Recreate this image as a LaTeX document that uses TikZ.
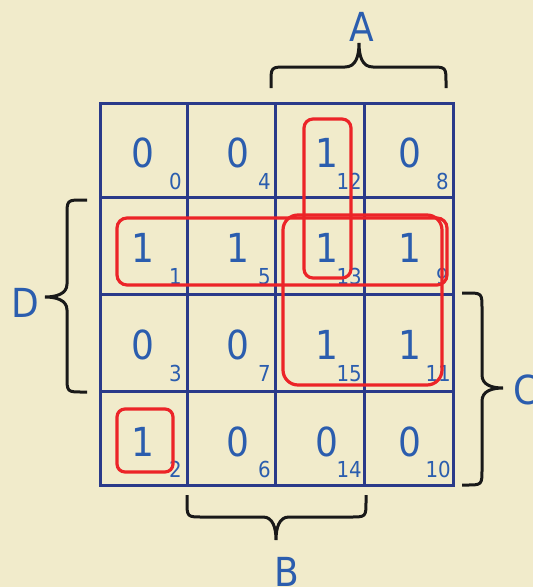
\documentclass[tikz,border=0pt]{standalone}
\usepackage{fontspec}
\setmainfont{DejaVu Sans Condensed}
\usetikzlibrary{fit}

\definecolor{paper}{RGB}{241,235,203}
\definecolor{gridblue}{RGB}{42,58,138}
\definecolor{digitblue}{RGB}{43,93,174}
\definecolor{loopred}{RGB}{236,36,40}
\definecolor{braceblack}{RGB}{25,25,25}

\tikzset{
  cell/.style={draw=gridblue, line width=3pt, inner sep=0pt},
  bigdigit/.style={text=digitblue, inner sep=0pt, font=\fontsize{40}{44}\selectfont},
  mindex/.style={text=digitblue, inner sep=0pt, anchor=south east, font=\fontsize{22}{24}\selectfont},
  loop/.style={draw=loopred, line width=3.2pt, inner sep=0pt},
  brace/.style={draw=braceblack, line width=3pt},
  varname/.style={text=digitblue, inner sep=0pt, font=\fontsize{40}{44}\selectfont},
}

\begin{document}
\begin{tikzpicture}[x=1pt,y=-1pt]
  \clip (0,0) rectangle (533,587);
  \fill[paper] (0,0) rectangle (533,587);

  % Karnaugh map cells
  \foreach \c/\xa/\xb in {0/100/187,1/187/275,2/275/364,3/364/453}
    \foreach \r/\ya/\yb in {0/103/197,1/197/294,2/294/391,3/391/485}
      \node[cell, fit={(\xa,\ya)(\xb,\yb)}] (c\r\c) {};

  % cell values: row/col/value/minterm/x of value/y of value/x of index/y of index
  \foreach \r/\c/\v/\m/\dx/\dy/\sx/\sy in {
      0/0/0/0/143/152.5/182/190, 0/1/0/4/238/152.5/271/190, 0/2/1/12/327/152.5/362/190, 0/3/0/8/410/152.5/449/190,
      1/0/1/1/143/248/182/285,   1/1/1/5/238/248/271/285,   1/2/1/13/327/248/362/285,   1/3/1/9/410/248/449/285,
      2/0/0/3/143/345/182/382,   2/1/0/7/238/345/271/382,   2/2/1/15/327/345/362/382,   2/3/1/11/410/345/451/382,
      3/0/1/2/143/441.5/182/478, 3/1/0/6/238/441.5/271/478, 3/2/0/14/327/441.5/362/478, 3/3/0/10/410/441.5/451/478}
  {
    \node[bigdigit] (v\r\c) at (\dx,\dy) {\v};
    \node[mindex] (m\r\c) at (\sx,\sy) {\m};
  }

  % groupings of ones
  \node[loop, rounded corners=9pt,  fit={(304,119)(351,278)}] (g1213) {};
  \node[loop, rounded corners=10pt, fit={(117,218)(447,285)}] (grow1) {};
  \node[loop, rounded corners=15pt, fit={(283,215)(442,385)}] (gquad) {};
  \node[loop, rounded corners=8pt,  fit={(117,409)(173,472)}] (g2) {};

  % brace end points and tips
  \coordinate (A1) at (271,88);  \coordinate (A2) at (446,88);  \coordinate (At) at (359,43);
  \coordinate (B1) at (187,495); \coordinate (B2) at (366,495); \coordinate (Bt) at (276,540);
  \coordinate (C1) at (462,293); \coordinate (C2) at (462,485); \coordinate (Ct) at (503,388);
  \coordinate (D1) at (87,200);  \coordinate (D2) at (87,392);  \coordinate (Dt) at (45,297);

  \draw[brace] (A1) -- (271,83) .. controls (271,67) .. (287,67) -- (345,67)
    .. controls (356,67) and (359,56) .. (At)
    .. controls (359,56) and (362,67) .. (373,67) -- (430,67)
    .. controls (446,67) .. (446,83) -- (A2);
  \draw[brace] (B1) -- (187,501) .. controls (187,517) .. (203,517) -- (263,517)
    .. controls (273,517) and (276,528) .. (Bt)
    .. controls (276,528) and (279,517) .. (289,517) -- (350,517)
    .. controls (366,517) .. (366,501) -- (B2);
  \draw[brace] (C1) -- (466,293) .. controls (482,293) .. (482,309) -- (482,375)
    .. controls (482,385) and (492,388) .. (Ct)
    .. controls (492,388) and (482,391) .. (482,401) -- (482,469)
    .. controls (482,485) .. (466,485) -- (C2);
  \draw[brace] (D1) -- (83,200) .. controls (67,200) .. (67,216) -- (67,284)
    .. controls (67,294) and (56,297) .. (Dt)
    .. controls (56,297) and (67,300) .. (67,310) -- (67,376)
    .. controls (67,392) .. (83,392) -- (D2);

  % variable labels
  \node[varname] (lA) at (362,27) {A};
  \node[varname] (lB) at (287,572) {B};
  \node[varname, anchor=west] (lC) at (513,390) {C};
  \node[varname] (lD) at (25,303) {D};
\end{tikzpicture}
\end{document}
